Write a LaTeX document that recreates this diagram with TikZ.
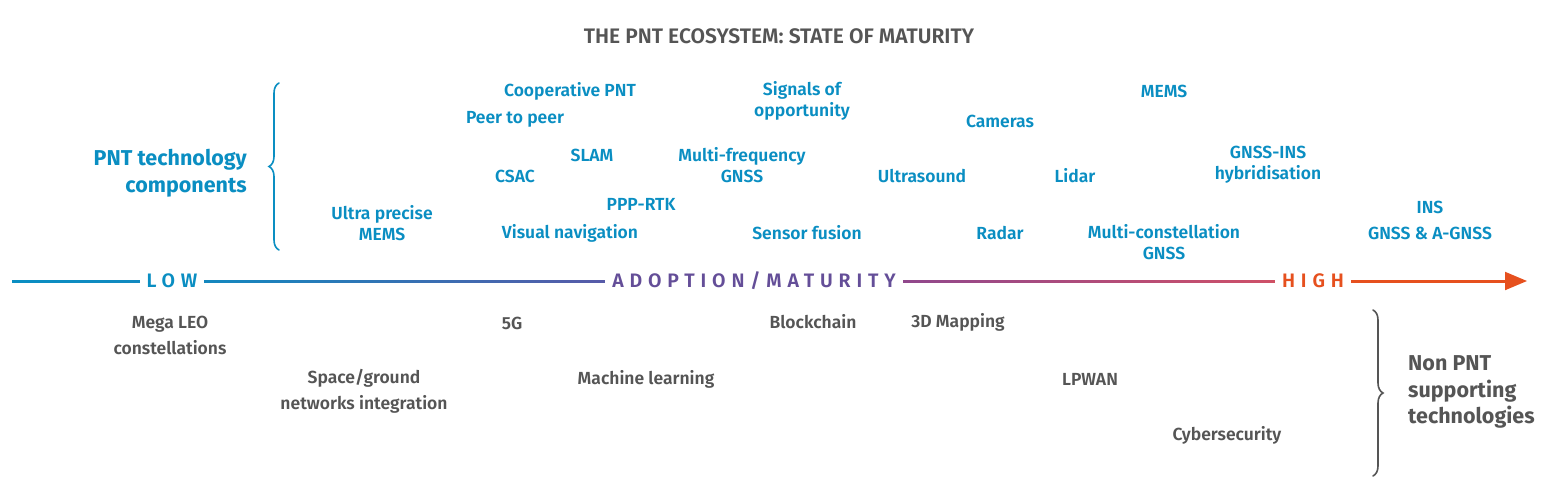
\documentclass[tikz,border=0pt]{standalone}
\usepackage{fontspec}
\setmainfont{Fira Sans}[BoldFont={Fira Sans SemiBold}]
\newfontfamily\heavyfont{Fira Sans}[UprightFont={* Bold}]
\usetikzlibrary{decorations.pathreplacing,arrows.meta}

\definecolor{pntblue}{RGB}{10,142,194}
\definecolor{pntgray}{RGB}{85,85,85}
\definecolor{pntviolet}{RGB}{88,90,168}
\definecolor{pntpurple}{RGB}{100,78,152}
\definecolor{pntplum}{RGB}{145,72,140}
\definecolor{pntrose}{RGB}{205,80,105}
\definecolor{pntorange}{RGB}{230,80,30}

\pgfdeclarehorizontalshading{maturity}{100bp}{color(0bp)=(pntblue); color(25bp)=(pntblue);
  color(32bp)=(pntblue!85!pntviolet); color(45bp)=(pntviolet); color(50bp)=(pntpurple);
  color(55bp)=(pntplum); color(67bp)=(pntrose); color(70bp)=(pntorange); color(100bp)=(pntorange)}

\begin{document}
\begin{tikzpicture}[x=1pt,y=-1pt,
    tech/.style={font=\bfseries\fontsize{17.5}{21}\selectfont, text=pntblue, align=center, inner sep=1pt},
    support/.style={tech, text=pntgray},
    group/.style={font=\heavyfont\fontsize{21.5}{26.5}\selectfont, inner sep=0pt},
    axislabel/.style={font=\bfseries\fontsize{19.5}{22}\selectfont\addfontfeature{LetterSpace=30}, fill=white, inner xsep=7pt, inner ysep=2pt},
    curly/.style={decorate, decoration={brace, amplitude=10pt}, line width=1.6pt, line cap=round}]

\useasboundingbox (0,0) rectangle (1555,482);

% Title
\node[font=\bfseries\fontsize{21}{24}\selectfont, text=pntgray] (title) at (779,36) {THE PNT ECOSYSTEM: STATE OF MATURITY};

% PNT technology components (above the axis)
\node[tech] (coop) at (570,91) {Cooperative PNT};
\node[tech] (peer) at (515,119) {Peer to peer};
\node[tech] (signals) at (802,101) {Signals of\\opportunity};
\node[tech] (mems) at (1164,91) {MEMS};
\node[tech] (cameras) at (1000,121) {Cameras};
\node[tech] (slam) at (592,155) {SLAM};
\node[tech] (csac) at (515,176) {CSAC};
\node[tech] (multifreq) at (742,165) {Multi-frequency\\GNSS};
\node[tech] (ultrasound) at (922,176) {Ultrasound};
\node[tech] (lidar) at (1075,176) {Lidar};
\node[tech] (hybrid) at (1268,165) {GNSS-INS\\hybridisation};
\node[tech] (ppprtk) at (641,204) {PPP-RTK};
\node[tech] (ultramems) at (382,223) {Ultra precise\\MEMS};
\node[tech] (visual) at (570,233) {Visual navigation};
\node[tech] (fusion) at (807,233) {Sensor fusion};
\node[tech] (radar) at (1000,233) {Radar};
\node[tech] (multiconst) at (1164,242) {Multi-constellation\\GNSS};
\node[tech] (ins) at (1430,220) {INS\\[5pt]GNSS \& A-GNSS};

\node[group, text=pntblue, align=right, anchor=east] (pntgroup) at (247,173) {PNT technology\\components};
\coordinate (pnttop) at (279,83);
\coordinate (pntbottom) at (279,250);
\draw[curly, pntblue] (pntbottom) -- (pnttop);

% Adoption / maturity axis
\coordinate (axstart) at (12,281);
\coordinate (axend) at (1527,281);
\shade[shading=maturity] (12,280) rectangle (1505,282);
\node[axislabel, text=pntblue] (low) at (172,281) {LOW};
\node[axislabel, text=pntpurple] (adoption) at (754,281) {ADOPTION/MATURITY};
\node[axislabel, text=pntorange] (high) at (1313,281) {HIGH};
\draw[pntorange, line width=2pt, -{Triangle[length=22pt,width=18pt]}] (high.east) -- (axend);

% Non PNT supporting technologies (below the axis)
\node[support] (leo) at (170,335) {Mega LEO\\[5pt]constellations};
\node[support] (fiveg) at (512,323) {5G};
\node[support] (blockchain) at (813,322) {Blockchain};
\node[support] (mapping) at (958,322) {3D Mapping};
\node[support] (spaceground) at (364,391) {Space/ground\\[5pt]networks integration};
\node[support] (ml) at (646,379) {Machine learning};
\node[support] (lpwan) at (1090,379) {LPWAN};
\node[support] (cyber) at (1227,435) {Cybersecurity};

\node[group, text=pntgray, align=left, anchor=west] (nonpnt) at (1408,392) {Non PNT\\supporting\\technologies};
\coordinate (nontop) at (1373,310);
\coordinate (nonbottom) at (1373,476);
\draw[curly, pntgray] (nontop) -- (nonbottom);

\end{tikzpicture}
\end{document}
